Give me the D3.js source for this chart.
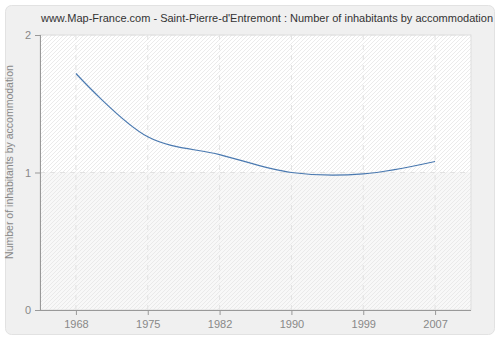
<!DOCTYPE html>
<html>
<head>
<meta charset="utf-8">
<script src="https://cdn.jsdelivr.net/npm/d3@7"></script>
<style>
  body { margin: 0; background: #fff; }
  text { font-family: "Liberation Sans", Arial, sans-serif; }
</style>
</head>
<body>
<svg id="chart" width="500" height="340"></svg>
<script>
// values
var years = ["1968", "1975", "1982", "1990", "1999", "2007"];
var inhabitants = [1.72, 1.26, 1.13, 1.0, 0.99, 1.08];
var yTicks = [0, 1, 2];
var title = "www.Map-France.com - Saint-Pierre-d'Entremont : Number of inhabitants by accommodation";

var margin = {top: 35, right: 29, bottom: 30, left: 40},
	width = 500 - margin.left - margin.right,
	height = 340 - margin.top - margin.bottom;

var svg = d3.select("#chart");

// hatch pattern for plot background
var defs = svg.append("defs");
var pat = defs.append("pattern")
	.attr("id", "hatch")
	.attr("patternUnits", "userSpaceOnUse")
	.attr("width", 4).attr("height", 4);
pat.append("path")
	.attr("d", "M-1,1 l2,-2 M0,4 l4,-4 M3,5 l2,-2")
	.attr("stroke", "#e6e6e6")
	.attr("stroke-width", 0.8);

// outer card
svg.append("rect")
	.attr("x", 5.5).attr("y", 5.5)
	.attr("width", 489).attr("height", 329)
	.attr("rx", 6)
	.attr("fill", "#f0f0f0")
	.attr("stroke", "#e2e2e2");

var x = d3.scalePoint()
	.domain(years)
	.range([0, width])
	.padding(0.5);

var y = d3.scaleLinear()
	.domain([0, 2])
	.range([height, 0]);

var chart = svg.append("g")
	.attr("transform", "translate(" + margin.left + "," + margin.top + ")");

// plot background: white above 1, faint grey below
chart.append("rect")
	.attr("width", width).attr("height", y(1))
	.attr("fill", "#ffffff");
chart.append("rect")
	.attr("y", y(1))
	.attr("width", width).attr("height", height - y(1))
	.attr("fill", "#f8f8f8");
chart.append("rect")
	.attr("width", width).attr("height", height)
	.attr("fill", "url(#hatch)")
	.attr("stroke", "#dddddd");

// grid lines
chart.selectAll(".vgrid")
	.data(years)
  .enter().append("line")
	.attr("class", "vgrid")
	.attr("x1", function(d) { return x(d); })
	.attr("x2", function(d) { return x(d); })
	.attr("y1", 0).attr("y2", height)
	.attr("stroke", "#e2e2e2")
	.attr("stroke-dasharray", "5,5");

chart.selectAll(".hgrid")
	.data(yTicks.filter(function(d) { return d > 0; }))
  .enter().append("line")
	.attr("class", "hgrid")
	.attr("x1", 0).attr("x2", width)
	.attr("y1", function(d) { return y(d); })
	.attr("y2", function(d) { return y(d); })
	.attr("stroke", "#e2e2e2")
	.attr("stroke-dasharray", "5,5");

// axes
var xAxis = d3.axisBottom(x).tickSize(5).tickPadding(5);
var yAxis = d3.axisLeft(y).tickValues(yTicks).tickFormat(d3.format("d")).tickSize(5).tickPadding(4);

var gx = chart.append("g")
	.attr("transform", "translate(0," + height + ")")
	.call(xAxis);
gx.select(".domain").attr("stroke", "#999").attr("d", "M0,0.5H" + width);

var gy = chart.append("g")
	.call(yAxis);
gy.select(".domain").attr("stroke", "#999").attr("d", "M0.5,0V" + height);

chart.selectAll(".tick line").attr("stroke", "#999");
chart.selectAll(".tick text")
	.attr("fill", "#888")
	.style("font-size", "11px");

// y axis label
chart.append("text")
	.attr("transform", "rotate(-90)")
	.attr("x", -(172 - margin.top) + 10)
	.attr("y", -27)
	.attr("text-anchor", "middle")
	.attr("fill", "#888")
	.style("font-size", "10.5px")
	.text("Number of inhabitants by accommodation");

// title
svg.append("text")
	.attr("x", 267)
	.attr("y", 22)
	.attr("text-anchor", "middle")
	.attr("fill", "#333")
	.style("font-size", "11px")
	.text(title);

// line
var valueline = d3.line()
	.x(function(d, i) { return x(years[i]); })
	.y(function(d) { return y(d); })
	.curve(d3.curveCatmullRom.alpha(0.5));

chart.append("path")
	.datum(inhabitants)
	.attr("fill", "none")
	.attr("stroke", "#4a79b0")
	.attr("stroke-width", 1.2)
	.attr("d", valueline);
</script>
</body>
</html>
